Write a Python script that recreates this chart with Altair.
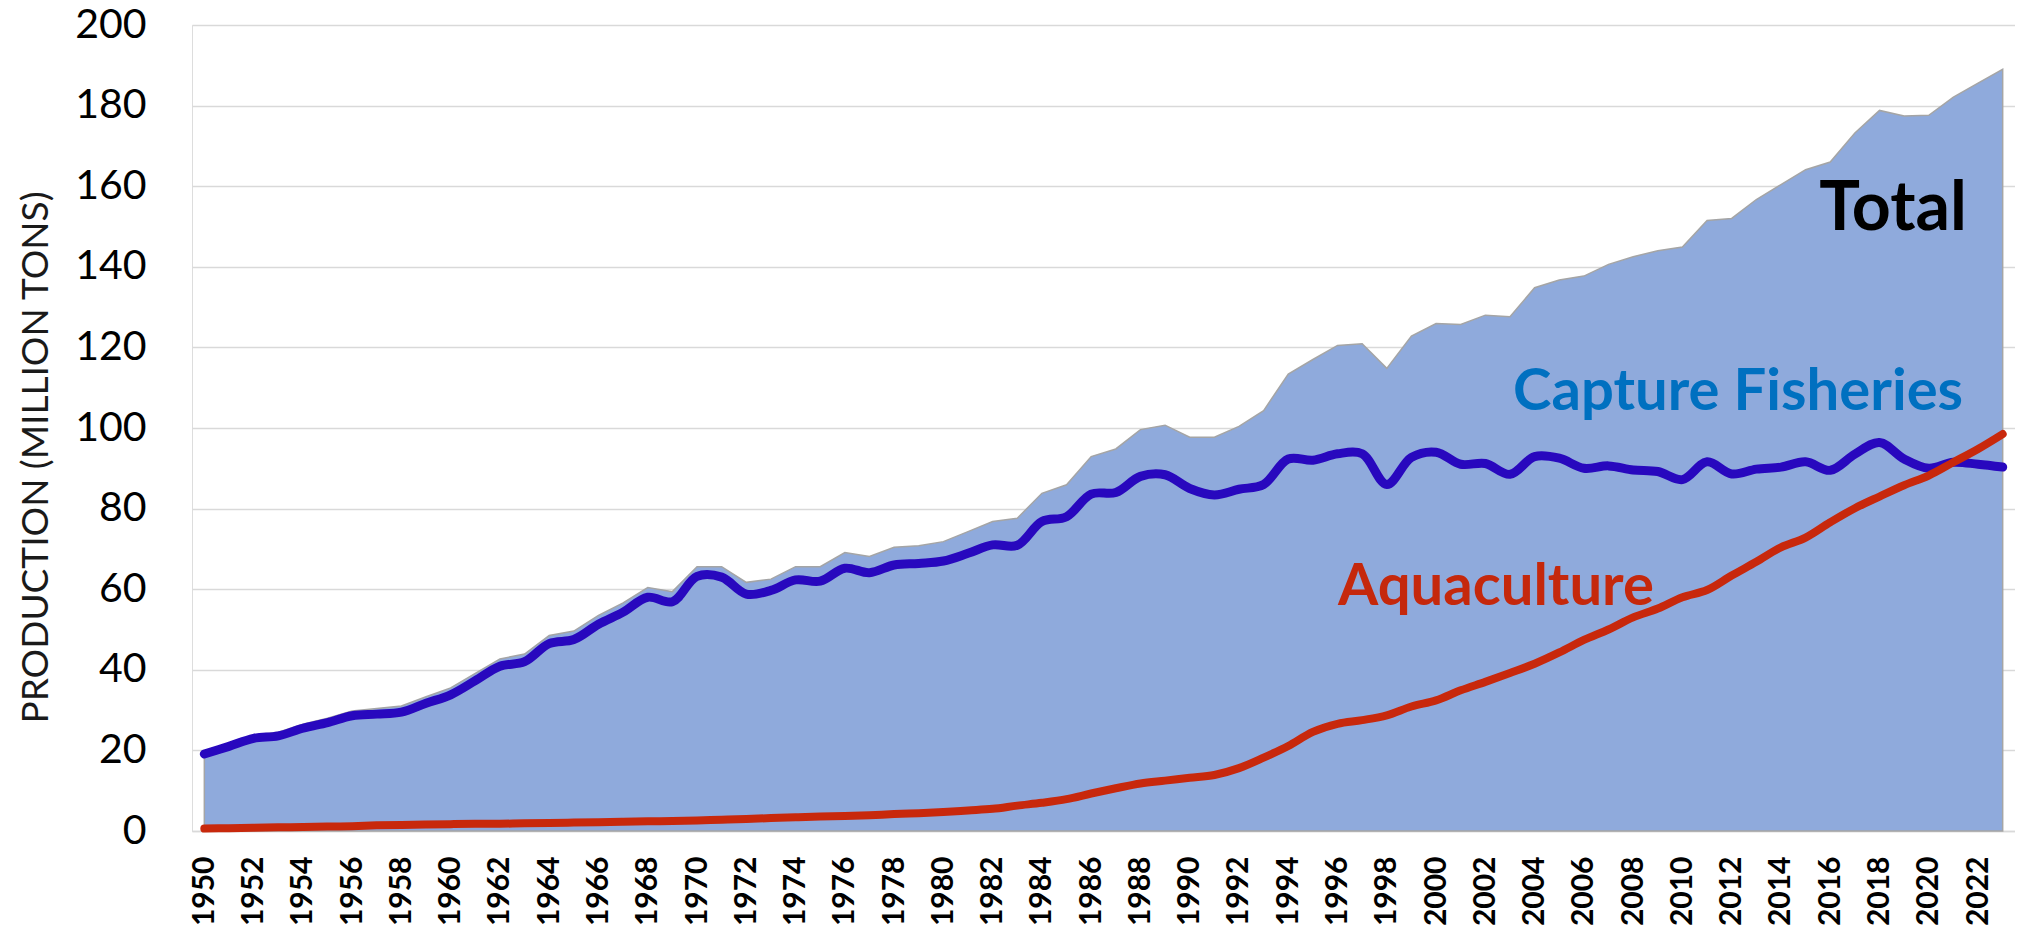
import altair as alt
import pandas as pd

years = list(range(1950, 2024))

total = [19.7, 21.7, 23.8, 24.5, 26.5, 28.0, 29.8, 30.4, 31.0, 33.3,
         35.5, 39.1, 42.7, 43.9, 48.5, 49.6, 53.5, 56.6, 60.4, 59.4,
         65.6, 65.6, 61.7, 62.5, 65.6, 65.6, 69.1, 68.1, 70.4, 70.8,
         71.8, 74.3, 76.8, 77.6, 83.8, 85.9, 92.9, 94.8, 99.6, 100.7,
         97.7, 97.7, 100.4, 104.3, 113.4, 117.0, 120.5, 120.9, 114.8, 122.8,
         125.9, 125.7, 128.0, 127.6, 134.8, 136.7, 137.7, 140.6, 142.5, 144.0,
         144.9, 151.5, 152.0, 156.7, 160.4, 164.1, 166.0, 173.2, 178.8, 177.4,
         177.6, 182.1, 185.6, 189.0]

capture = [19.1, 21.0, 23.0, 23.6, 25.5, 26.9, 28.6, 29.0, 29.5, 31.7,
           33.8, 37.3, 40.9, 42.0, 46.5, 47.5, 51.3, 54.3, 58.0, 56.9,
           63.2, 63.0, 58.8, 59.7, 62.3, 62.0, 65.2, 64.1, 66.0, 66.4,
           67.0, 68.9, 71.0, 70.9, 76.8, 78.0, 83.6, 84.0, 88.0, 88.4,
           85.0, 83.4, 84.8, 86.0, 92.3, 92.0, 93.6, 93.6, 86.0, 92.7,
           94.0, 91.0, 91.2, 88.5, 92.9, 92.5, 90.0, 90.6, 89.6, 89.2,
           87.2, 91.6, 88.6, 89.8, 90.3, 91.6, 89.5, 93.5, 96.4, 92.3,
           90.0, 91.5, 91.0, 90.3]

aquaculture = [0.6, 0.7, 0.8, 0.9, 1.0, 1.1, 1.2, 1.4, 1.5, 1.6,
               1.7, 1.8, 1.8, 1.9, 2.0, 2.1, 2.2, 2.3, 2.4, 2.5,
               2.6, 2.8, 3.0, 3.2, 3.4, 3.6, 3.7, 3.9, 4.2, 4.4,
               4.7, 5.1, 5.5, 6.3, 7.0, 7.9, 9.3, 10.6, 11.8, 12.5,
               13.2, 13.9, 15.6, 18.2, 21.1, 24.6, 26.6, 27.5, 28.7, 30.9,
               32.4, 34.9, 37.0, 39.2, 41.5, 44.3, 47.4, 50.0, 53.0, 55.2,
               58.0, 59.8, 63.4, 66.8, 70.4, 72.8, 76.6, 80.1, 83.0, 85.8,
               88.2, 91.5, 94.8, 98.5]

tick_years = list(range(1950, 2023, 2))
y_ticks = list(range(0, 201, 20))

labels = ["Total", "Capture Fisheries", "Aquaculture"]
label_years = [2018.55, 2012.26, 2002.43]
label_values = [149.1, 104.4, 56.0]

df = pd.DataFrame({"year": years, "total": total,
                   "capture": capture, "aquaculture": aquaculture})

FONT = "Lato"

x_enc = alt.X("year:Q",
              scale=alt.Scale(domain=[1949.5, 2023.5], nice=False, zero=False),
              axis=alt.Axis(values=tick_years, format="d", labelAngle=-90,
                            labelFont=FONT, labelFontWeight="bold",
                            labelFontSize=30, labelColor="#000000",
                            labelPadding=25, ticks=False, grid=False,
                            domain=True, domainColor="#D9D9D9",
                            domainWidth=1.5, title=None,
                            labelOverlap=False, labelFlush=False))

y_scale = alt.Scale(domain=[0, 200], nice=False, zero=True)

area = alt.Chart(df).mark_area(
    color="#8FAADC", fill="#8FAADC", stroke="#A5A5A5", strokeWidth=1.5,
    opacity=1, fillOpacity=1, interpolate="linear"
).encode(
    x=x_enc,
    y=alt.Y("total:Q", scale=y_scale,
            axis=alt.Axis(values=y_ticks, labelFont=FONT, labelFontSize=41,
                          labelColor="#000000", labelPadding=46, ticks=False,
                          domain=False, grid=True, gridColor="#D9D9D9",
                          gridWidth=1.5,
                          title="PRODUCTION (MILLION TONS)",
                          titleFont=FONT, titleFontSize=37,
                          titleFontWeight="normal", titleColor="#1a1a1a",
                          titleAngle=-90, titleAlign="center",
                          titleBaseline="alphabetic",
                          titleX=-145, titleY=432)),
)

cap_line = alt.Chart(df).mark_line(
    color="#2808BE", strokeWidth=9, interpolate="catmull-rom",
    strokeCap="round", strokeJoin="round"
).encode(x="year:Q", y=alt.Y("capture:Q", scale=y_scale))

aq_line = alt.Chart(df).mark_line(
    color="#C8280C", strokeWidth=8, interpolate="catmull-rom",
    strokeCap="round", strokeJoin="round"
).encode(x="year:Q", y=alt.Y("aquaculture:Q", scale=y_scale))

ann = pd.DataFrame({"label": labels, "year": label_years, "value": label_values})


def text_layer(label, color, size):
    return alt.Chart(ann[ann["label"] == label]).mark_text(
        font=FONT, fontWeight="bold", fontSize=size, color=color,
        align="center", baseline="alphabetic"
    ).encode(x="year:Q", y=alt.Y("value:Q", scale=y_scale), text="label:N")


chart = alt.layer(
    area, cap_line, aq_line,
    text_layer("Total", "#000000", 68),
    text_layer("Capture Fisheries", "#0070C0", 58),
    text_layer("Aquaculture", "#C5280C", 58),
).properties(
    width=1823, height=806,
    autosize=alt.AutoSizeParams(type="none"),
    padding={"left": 184, "top": 17, "right": 0, "bottom": 97},
).configure_view(stroke=None).configure(background="white")

chart.save("out.html", embed_options={"renderer": "svg", "actions": False})
